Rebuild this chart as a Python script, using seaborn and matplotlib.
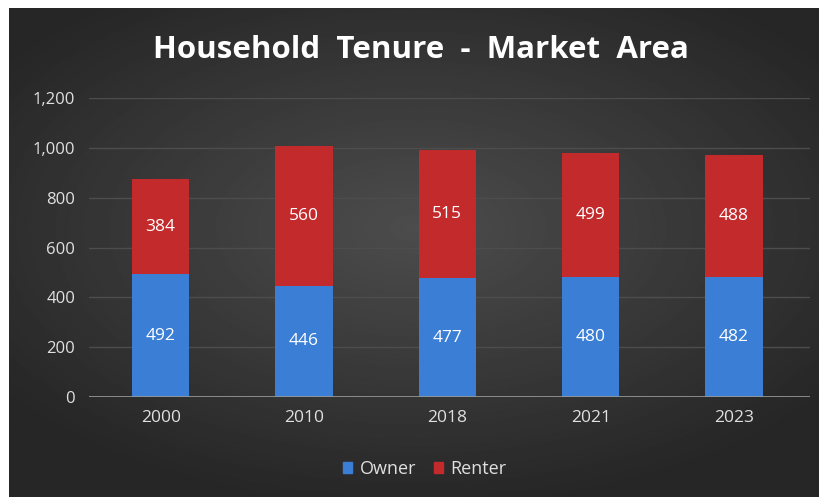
import numpy as np
import matplotlib
matplotlib.use("Agg")
import matplotlib.pyplot as plt
import seaborn as sns

# %% data
years = ["2000", "2010", "2018", "2021", "2023"]
owner = [492, 446, 477, 480, 482]
renter = [384, 560, 515, 499, 488]
yticks = [0, 200, 400, 600, 800, 1000, 1200]

total = [o + r for o, r in zip(owner, renter)]

sns.set_theme(style="dark")
plt.rcParams["font.family"] = ["Open Sans", "DejaVu Sans"]

blue = "#3b7ed6"
red = "#c22a2c"
txt = "#e0e0e0"

fig = plt.figure(figsize=(8.2, 4.97), dpi=100)
fig.patch.set_facecolor("white")

# %% dark panel with soft radial gradient
bg = fig.add_axes([9 / 820, 0, 811 / 820, 489 / 497])
yy, xx = np.mgrid[-1:1:300j, -1:1:500j]
rad = np.sqrt((xx / 1.1) ** 2 + ((yy + 0.1) / 1.0) ** 2)
shade = np.clip(0.30 - 0.13 * rad, 0.15, 0.30)
bg.imshow(shade, cmap="gray", vmin=0, vmax=1, aspect="auto", extent=[0, 1, 0, 1])
bg.set_axis_off()

# %% bar chart
ax = fig.add_axes([89 / 820, 100 / 497, 721 / 820, 299 / 497])
ax.patch.set_alpha(0)
sns.barplot(x=years, y=total, color=red, width=0.4, saturation=1, linewidth=0,
            ax=ax, zorder=3)
sns.barplot(x=years, y=owner, color=blue, width=0.4, saturation=1, linewidth=0,
            ax=ax, zorder=4)

for i in range(len(years)):
    ax.text(i, owner[i] / 2, str(owner[i]), ha="center", va="center",
            color="white", fontsize=12.5, zorder=5)
    ax.text(i, owner[i] + renter[i] / 2, str(renter[i]), ha="center", va="center",
            color="white", fontsize=12.5, zorder=5)

ax.set_ylim(0, 1200)
ax.set_xlim(-0.5, 4.53)
ax.set_yticks(yticks)
ax.set_yticklabels([f"{v:,}" for v in yticks])
ax.yaxis.grid(True, color="#4d4d4d", linewidth=1)
ax.xaxis.grid(False)
for s in ax.spines.values():
    s.set_visible(False)
ax.axhline(0, color="#9a9a9a", linewidth=1.2, zorder=6)
ax.tick_params(axis="y", colors=txt, labelsize=12, length=0, pad=10)
ax.tick_params(axis="x", colors=txt, labelsize=12.5, length=0, pad=9)
ax.set_xlabel("")
ax.set_ylabel("")

fig.text(421 / 820, 1 - 50 / 497, "Household  Tenure  -  Market  Area", ha="center",
         va="center", color="white", fontsize=22.5, fontweight="bold")

handles = [plt.Rectangle((0, 0), 1, 1, color=blue), plt.Rectangle((0, 0), 1, 1, color=red)]
fig.legend(handles, ["Owner", "Renter"], loc="center", bbox_to_anchor=(425 / 820, 1 - 469 / 497),
           ncol=2, frameon=False, fontsize=13, labelcolor=txt, handlelength=0.5,
           handleheight=0.5, handletextpad=0.4, columnspacing=1.0)

fig.savefig("out.png", dpi=100)
